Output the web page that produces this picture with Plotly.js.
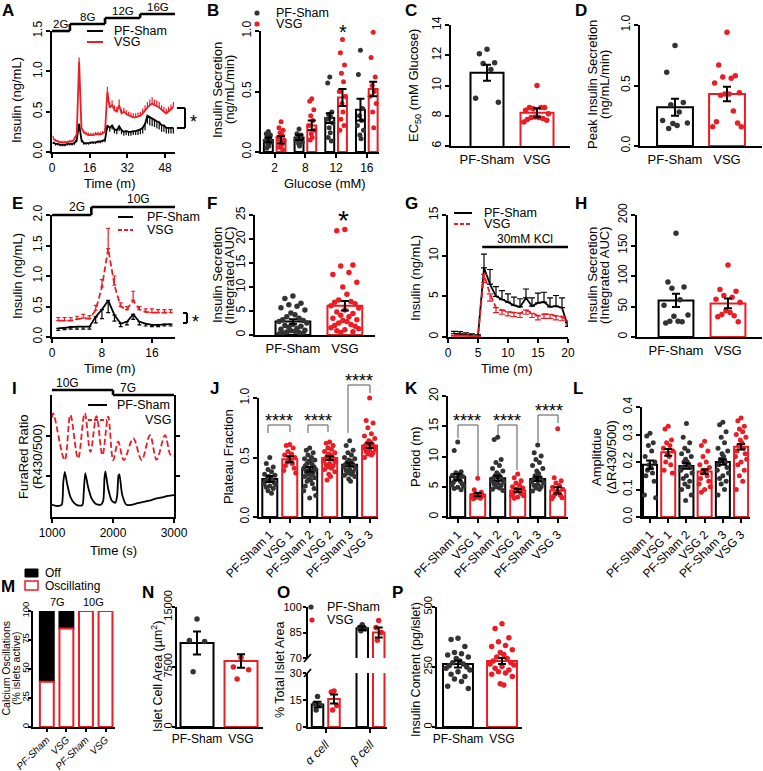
<!DOCTYPE html>
<html><head><meta charset="utf-8">
<script src="https://cdn.plot.ly/plotly-3.0.1.min.js"></script>
<style>html,body{margin:0;padding:0;background:#fff}#plot{width:763px;height:771px}</style>
</head><body><div id="plot"></div>
<script>
// ================= DATA =================
const GROUPS=['PF-Sham','VSG'];
// A: perifusion, stepwise glucose
const A_time=[0.5,1.5,2.5,3.5,4.5,5.5,6.5,7.5,8.5,9.5,10.5,11.5,12.5,13.5,14.5,15.5,16.5,17.5,18.5,19.5,20.5,21.5,22.5,23.5,24.5,25.5,26.5,27.5,28.5,29.5,30.5,31.5,32.5,33.5,34.5,35.5,36.5,37.5,38.5,39.5,40.5,41.5,42.5,43.5,44.5,45.5,46.5,47.5,48.5,49.5,50.5,51.5];
const A_sham=[0.12,0.10,0.10,0.09,0.09,0.09,0.10,0.10,0.10,0.11,0.15,0.35,0.15,0.11,0.11,0.11,0.12,0.12,0.12,0.13,0.13,0.14,0.15,0.33,0.30,0.33,0.28,0.27,0.32,0.27,0.25,0.26,0.25,0.25,0.26,0.26,0.27,0.28,0.30,0.35,0.45,0.43,0.42,0.40,0.38,0.37,0.33,0.33,0.30,0.30,0.30,0.30];
const A_sham_err=[0.02,0.02,0.02,0.02,0.02,0.02,0.02,0.02,0.02,0.02,0.03,0.05,0.03,0.02,0.02,0.02,0.02,0.02,0.02,0.02,0.02,0.02,0.03,0.05,0.05,0.05,0.05,0.05,0.06,0.05,0.05,0.05,0.05,0.05,0.05,0.05,0.06,0.06,0.07,0.08,0.10,0.10,0.10,0.09,0.09,0.09,0.08,0.08,0.07,0.07,0.07,0.07];
const A_vsg=[0.17,0.14,0.13,0.12,0.12,0.12,0.12,0.13,0.13,0.16,0.22,1.12,0.30,0.24,0.22,0.21,0.21,0.21,0.22,0.22,0.22,0.23,0.25,0.75,0.55,0.58,0.52,0.50,0.58,0.48,0.50,0.47,0.45,0.44,0.43,0.43,0.44,0.45,0.48,0.52,0.55,0.58,0.60,0.58,0.57,0.55,0.52,0.50,0.48,0.50,0.53,0.56];
const A_vsg_err=[0.03,0.02,0.02,0.02,0.02,0.02,0.02,0.02,0.02,0.03,0.04,0.05,0.05,0.03,0.03,0.03,0.03,0.03,0.03,0.03,0.03,0.03,0.04,0.06,0.07,0.06,0.06,0.06,0.07,0.05,0.05,0.05,0.05,0.05,0.05,0.05,0.05,0.05,0.06,0.06,0.07,0.07,0.08,0.07,0.07,0.07,0.06,0.06,0.06,0.06,0.06,0.06];
const A_step_t=[0,7.6,22.5,37.4,52.2];
const A_step_lbl=['2G','8G','12G','16G'];
// B: secretion by glucose
const B_glucose=['2','8','12','16'];
const B_sham_mean=[0.10,0.12,0.28,0.35], B_sham_se=[0.02,0.02,0.04,0.09];
const B_vsg_mean=[0.10,0.22,0.45,0.52], B_vsg_se=[0.03,0.04,0.07,0.06];
const B_sham_pts=[[0.17,0.15,0.14,0.12,0.11,0.09,0.08,0.06,0.05,0.03],[0.19,0.15,0.14,0.12,0.11,0.10,0.08,0.07,0.05],[0.62,0.57,0.33,0.31,0.29,0.27,0.24,0.20,0.16,0.12,0.09],[0.84,0.64,0.36,0.30,0.26,0.22,0.18,0.14,0.11]];
const B_vsg_pts=[[0.25,0.20,0.18,0.16,0.14,0.12,0.10,0.08,0.06,0.04,0.02],[0.44,0.42,0.35,0.30,0.26,0.22,0.18,0.15,0.12,0.10],[0.93,0.82,0.72,0.65,0.58,0.50,0.46,0.40,0.33,0.27,0.22,0.18],[0.99,0.78,0.62,0.55,0.50,0.46,0.40,0.33,0.20]];
// C: EC50
const C_mean=[10.85,8.2], C_se=[0.53,0.3];
const C_pts=[[12.4,12.1,11.5,11.45,11.05,9.15,8.9],[10.0,8.54,8.54,8.47,8.54,8.36,8.14,7.92,7.88,7.88,7.81,7.75,7.7,7.59]];
// D: peak secretion
const D_mean=[0.32,0.43], D_se=[0.07,0.06];
const D_pts=[[0.83,0.61,0.36,0.34,0.28,0.21,0.19,0.185,0.17,0.145],[0.94,0.67,0.58,0.57,0.56,0.52,0.44,0.43,0.43,0.42,0.29,0.20,0.19,0.16,0.16]];
// E: 2G -> 10G
const E_time=[1,2,3,4,5,6,7,8,9,10,11,12,13,14,15,16,17,18,19];
const E_sham=[0.14,0.15,0.17,0.17,0.17,0.17,0.33,0.45,0.60,0.36,0.22,0.25,0.37,0.25,0.22,0.20,0.20,0.21,0.21];
const E_sham_err=[0.03,0.03,0.04,0.04,0.04,0.04,0.10,0.15,0.20,0.10,0.05,0.05,0.08,0.05,0.04,0.03,0.03,0.03,0.03];
const E_vsg=[0.27,0.27,0.27,0.29,0.31,0.30,0.44,0.82,1.45,0.85,0.50,0.45,0.60,0.45,0.41,0.40,0.40,0.40,0.40];
const E_vsg_err=[0.05,0.05,0.05,0.05,0.06,0.05,0.08,0.12,0.33,0.15,0.06,0.05,0.15,0.05,0.05,0.06,0.05,0.05,0.05];
const E_step_t=[0,6.3,19.7];
const E_step_lbl=['2G','10G'];
// F: integrated AUC
const F_mean=[2.8,6.1], F_se=[0.5,1.0];
const F_pts=[[8.1,7.6,6.6,6.3,6.0,5.7,5.2,4.6,4.2,3.8,3.5,3.2,3.0,2.8,2.5,2.2,2.0,1.8,1.6,1.4,1.2,1.0,0.9,0.8,0.6,0.5,0.4,0.3,0.2],[22.0,21.7,14.6,14.4,13.0,12.6,11.0,10.0,8.5,7.3,7.0,6.8,6.5,6.1,5.6,5.2,4.8,4.5,4.1,3.8,3.5,3.2,3.0,2.8,2.5,2.2,2.0,1.8,1.5,1.3,1.1,0.9,0.7,0.5]];
// G: KCl
const G_time=[1,2,3,4,5,6,7,8,9,10,11,12,13,14,15,16,17,18,19,20];
const G_sham=[0.4,0.35,0.3,0.2,0.15,8.5,6.5,5.0,4.6,4.3,3.9,3.7,4.8,3.8,4.2,4.3,3.7,3.8,3.6,1.3];
const G_sham_err=[0.3,0.3,0.2,0.2,0.1,1.7,1.8,1.2,1.1,1.0,1.0,1.0,1.1,1.0,1.2,1.2,1.1,1.3,1.2,0.5];
const G_vsg=[0.2,0.2,0.2,0.15,0.1,7.7,5.3,3.6,3.3,3.1,3.0,2.9,3.3,2.9,2.6,2.8,2.8,2.6,2.5,2.0];
const G_vsg_err=[0.1,0.1,0.1,0.1,0.1,1.0,0.9,0.6,0.5,0.5,0.5,0.5,0.5,0.5,0.5,0.5,0.5,0.5,0.5,0.4];
const G_kcl_t=[5.7,20];
// H: KCl AUC
const H_mean=[60,55], H_se=[11,8];
const H_pts=[[170,90,82,80,61,52,36,34,26,26,25,23],[118,78,75,68,65,62,57,43,40,37,35,33,25]];
// I: FuraRed traces
const I_sham_t=[1000,1100,1160,1185,1210,1250,1300,1360,1440,1500,1520,1545,1590,1650,1720,1800,1840,1860,1875,1920,1980,2040,2070,2090,2105,2150,2220,2300,2400,2500,2600,2700,2800,2900,3000];
const I_sham=[0.30,0.27,0.30,0.85,1.11,0.80,0.50,0.35,0.28,0.30,0.60,1.08,0.75,0.45,0.32,0.30,0.40,0.95,1.12,0.70,0.40,0.35,0.55,1.02,1.05,0.55,0.30,0.30,0.34,0.37,0.40,0.45,0.48,0.52,0.54];
const I_vsg_t=[1000,1020,1208,1301,1427,1537,1630,1729,1827,1921,2003,2085,2178,2332,2469,2606,2715,2852,2945,3000];
const I_vsg=[2.45,2.55,1.40,2.51,1.44,2.55,1.60,2.48,1.52,2.47,1.40,1.85,1.40,1.93,1.40,2.01,1.41,2.01,1.52,1.50];
const I_step_t=[1000,2000,3000];
const I_step_lbl=['10G','7G'];
// J, K, L: oscillation metrics
const JKL_labels=['PF-Sham 1','VSG 1','PF-Sham 2','VSG 2','PF-Sham 3','VSG 3'];
const J_mean=[0.32,0.485,0.40,0.495,0.44,0.60], J_se=[0.025,0.025,0.02,0.015,0.015,0.02];
const J_pts=[[0.50,0.45,0.42,0.40,0.38,0.36,0.35,0.34,0.33,0.32,0.31,0.30,0.29,0.28,0.27,0.26,0.25,0.24,0.22,0.20],
[0.61,0.60,0.58,0.55,0.53,0.52,0.50,0.49,0.48,0.46,0.45,0.43,0.41,0.39,0.37],
[0.58,0.56,0.54,0.52,0.50,0.49,0.48,0.47,0.46,0.45,0.44,0.43,0.42,0.41,0.40,0.39,0.38,0.37,0.36,0.35,0.34,0.33,0.32,0.31,0.30,0.28,0.26,0.24,0.22,0.18,0.16],
[0.63,0.62,0.60,0.58,0.57,0.55,0.54,0.53,0.52,0.51,0.50,0.49,0.48,0.47,0.46,0.45,0.44,0.43,0.42,0.41,0.40,0.38,0.36,0.34,0.31],
[0.64,0.60,0.56,0.54,0.52,0.50,0.49,0.48,0.47,0.46,0.45,0.44,0.43,0.42,0.41,0.40,0.39,0.38,0.37,0.36,0.35,0.34,0.32,0.30],
[1.00,0.81,0.79,0.75,0.70,0.68,0.66,0.64,0.63,0.62,0.61,0.60,0.59,0.58,0.57,0.56,0.55,0.54,0.53,0.52,0.50]];
const K_mean=[6.6,3.7,6.4,4.4,6.3,4.4], K_se=[0.5,0.25,0.4,0.25,0.35,0.5];
const K_pts=[[12.4,11.0,7.5,7.3,7.1,6.9,6.7,6.5,6.3,6.1,5.9,5.7,5.5,5.3,5.1,4.9,4.7,4.5],
[6.4,4.5,4.1,3.9,3.7,3.6,3.5,3.4,3.3,3.2,3.1,3.0],
[13.2,12.8,9.5,9.0,8.5,8.0,7.6,7.3,7.0,6.8,6.6,6.4,6.2,6.0,5.8,5.6,5.4,5.2,5.0,4.8,4.6,4.4],
[7.1,6.5,6.0,5.6,5.3,5.0,4.8,4.6,4.4,4.2,4.0,3.9,3.8,3.6,3.5,3.3,3.1],
[11.9,10.6,10.1,9.5,9.0,8.5,8.0,7.6,7.2,6.8,6.5,6.2,6.0,5.8,5.6,5.4,5.2,5.0,4.8,4.6,4.3],
[14.6,6.5,6.0,5.6,5.2,4.9,4.6,4.3,4.0,3.8,3.6,3.4,3.2,3.0]];
const L_mean=[0.19,0.235,0.185,0.165,0.20,0.255], L_se=[0.015,0.012,0.01,0.008,0.01,0.01];
const L_pts=[[0.305,0.295,0.27,0.26,0.24,0.22,0.20,0.19,0.18,0.17,0.16,0.15,0.13,0.08,0.07],
[0.33,0.32,0.28,0.27,0.26,0.25,0.24,0.23,0.22,0.20,0.19,0.17,0.16],
[0.34,0.29,0.27,0.25,0.24,0.23,0.22,0.21,0.20,0.20,0.19,0.18,0.18,0.17,0.16,0.15,0.14,0.13,0.12,0.11,0.10,0.08,0.06],
[0.275,0.26,0.24,0.22,0.20,0.19,0.18,0.17,0.17,0.16,0.15,0.14,0.13,0.12,0.11,0.10,0.09],
[0.345,0.335,0.31,0.29,0.27,0.25,0.24,0.23,0.22,0.21,0.20,0.19,0.18,0.17,0.16,0.15,0.14,0.13,0.12,0.10,0.08],
[0.36,0.35,0.33,0.32,0.31,0.30,0.29,0.28,0.27,0.26,0.25,0.24,0.23,0.22,0.21,0.20,0.19,0.17,0.15,0.13,0.10]];
// M: % islets oscillating
const M_labels=['PF-Sham','VSG','PF-Sham','VSG'];
const M_osc=[39,85,100,100], M_off=[61,15,0,0];
const M_glc=['7G','10G'];
// N: islet cell area
const N_mean=[10500,8250], N_se=[1450,850];
const N_pts=[[13500,10800,10700,6900],[8700,7500,7150,6000]];
// O: % total islet area
const O_cells=['α cell','β cell'];
const O_mean=[12.5,15.5,87.5,85.0], O_se=[1.5,2.5,1.0,3.0];
const O_pts=[[16.9,13.1,12.0,9.4],[20.0,19.5,12.0,9.5],[89.5,88.0,87.0,86.0],[92.0,88.0,85.0,80.5]];
// P: insulin content
const P_mean=[262,275], P_se=[14,13];
const P_pts=[[370,365,335,310,305,300,292,285,275,268,262,255,250,245,238,230,220,210,200,190,170,160],
[430,410,372,355,340,335,322,310,302,292,285,275,268,262,258,252,245,238,230,225,220,210,180,175]];

// ================= LAYOUT HELPERS =================
const W=763,H=771;
const X=p=>p/W, Y=p=>1-p/H;
const FONT='Liberation Sans, Arial, Helvetica, sans-serif';
const RED='#ec1c24', DOT='#333333', BLK='#000000';
const traces=[], shapes=[], ann=[];
const layout={width:W,height:H,margin:{l:0,r:0,t:0,b:0,pad:0},showlegend:false,barmode:'overlay',
  paper_bgcolor:'#ffffff',plot_bgcolor:'rgba(0,0,0,0)',font:{family:FONT,size:12,color:'#000'},shapes:shapes,annotations:ann};
const AX={showline:true,linewidth:2,linecolor:'#000',ticks:'outside',ticklen:4,tickwidth:2,tickcolor:'#000',
  showgrid:false,zeroline:false,fixedrange:true,tickfont:{family:FONT,size:12,color:'#000'}};
function mkAxes(n,box,xr,yr,xo,yo){
  const s=n===1?'':String(n);
  layout['xaxis'+s]=Object.assign({},AX,{domain:[X(box[0]),X(box[1])],range:xr,anchor:'y'+s},xo||{});
  layout['yaxis'+s]=Object.assign({},AX,{domain:[Y(box[3]),Y(box[2])],range:yr,anchor:'x'+s,tickangle:-90,ticklabelstandoff:-1},yo||{});
  return {x:'x'+s,y:'y'+s};
}
function T(x,y,text,o){ann.push(Object.assign({xref:'paper',yref:'paper',x:X(x),y:Y(y),text:text,showarrow:false,
  xanchor:'center',yanchor:'middle',font:{family:FONT,size:13,color:'#000'}},o||{}));}
function Ln(x0,y0,x1,y1,color,width,dash){shapes.push({type:'line',xref:'paper',yref:'paper',x0:X(x0),y0:Y(y0),x1:X(x1),y1:Y(y1),
  line:{color:color||'#000',width:width||2,dash:dash||'solid'}});}
// y-axis titles: one annotation per line so the line spacing stays tight
function yTitle(xs,y,lines,size){[].concat(lines).forEach((t,i)=>T([].concat(xs)[i],y,t,{textangle:-90,font:{family:FONT,size:size||13,color:'#000'}}));}
function letter(x,y,t){T(x,y,'<b>'+t+'</b>',{font:{family:FONT,size:17,color:'#000'}});}
const PAT=[0,-0.55,0.55,-0.28,0.28,-0.82,0.82,-0.14,0.14,-0.42,0.42,-0.7,0.7,-0.95,0.95];
function swarm(c,vals,half){return vals.map((v,j)=>c+PAT[j%PAT.length]*half);}
function barSet(ax,pos,means,ses,cols,groups,w,dot){
  traces.push({type:'bar',xaxis:ax.x,yaxis:ax.y,x:pos,y:means,width:w,
    marker:{color:'rgba(255,255,255,0)',line:{color:cols,width:2}},hoverinfo:'skip'});
  groups.forEach((g,i)=>{
    traces.push({type:'scatter',mode:'markers',xaxis:ax.x,yaxis:ax.y,x:swarm(pos[i],g,w*0.42),y:g,
      marker:{size:dot||5.5,color:cols[i]===RED?RED:DOT},cliponaxis:false,hoverinfo:'skip'});
  });
  if(ses) traces.push({type:'scatter',mode:'markers',xaxis:ax.x,yaxis:ax.y,x:pos,y:means,
    marker:{size:1,color:'rgba(0,0,0,0)'},error_y:{type:'data',array:ses,color:'#000',thickness:2,width:4},hoverinfo:'skip'});
}
function tsLine(ax,t,v,err,up,color,dash,capw){
  const z=err.map(()=>0);
  traces.push({type:'scatter',mode:'lines',xaxis:ax.x,yaxis:ax.y,x:t,y:v,line:{color:color,width:1.8,dash:dash||'solid'},
    error_y:{type:'data',symmetric:false,array:up?err:z,arrayminus:up?z:err,color:color,thickness:1.2,width:capw||0},hoverinfo:'skip'});
}
function steps(xref,ts,ysPx,lbls,lblX,lblDy,fs){
  for(let k=0;k<ysPx.length;k++){
    shapes.push({type:'line',xref:xref,yref:'paper',x0:ts[k],x1:ts[k+1],y0:Y(ysPx[k]),y1:Y(ysPx[k]),line:{color:'#000',width:2.6}});
    if(k<ysPx.length-1) shapes.push({type:'line',xref:xref,yref:'paper',x0:ts[k+1],x1:ts[k+1],y0:Y(ysPx[k]),y1:Y(ysPx[k+1]),line:{color:'#000',width:2.6}});
    ann.push({xref:xref,yref:'paper',x:lblX?lblX[k]:(ts[k]+ts[k+1])/2,y:Y(ysPx[k]-(lblDy||8)),text:lbls[k],showarrow:false,
      xanchor:'center',yanchor:'middle',font:{family:FONT,size:fs||12,color:'#000'}});
  }
}
function legLine(x0,x1,y,color,dash,label,tx){Ln(x0,y,x1,y,color,2,dash);T(tx,y,label,{xanchor:'left',font:{family:FONT,size:12.5,color:'#000'}});}
function legDot(x,y,color,label,tx){shapes.push({type:'circle',xref:'paper',yref:'paper',x0:X(x-2.6),x1:X(x+2.6),y0:Y(y+2.6),y1:Y(y-2.6),fillcolor:color,line:{width:0}});T(tx,y,label,{xanchor:'left',font:{family:FONT,size:12.5,color:'#000'}});}
function bracket(xl,xr,top,lb,rb){const c='#707070';Ln(xl,lb,xl,top,c,1.2);Ln(xl,top,xr,top,c,1.2);Ln(xr,top,xr,rb,c,1.2);}
function pairPos(n,off){const p=[];for(let k=0;k<n;k++){p.push(k-off);p.push(k+off);}return p;}
function inter(a,b){const r=[];a.forEach((v,i)=>{r.push(v);r.push(b[i]);});return r;}
const CAT_X={tickfont:{family:FONT,size:13,color:'#000'}};
const CAT_X4={tickfont:{family:FONT,size:12,color:'#000'}};
const SM={family:FONT,size:11,color:'#000'};
const ROW4Y={ticklen:3,ticklabelstandoff:-4,tickfont:SM};

// ---------- A ----------
const a=mkAxes(1,[52,175,31,152],[0,52.2],[0,1.5],{tickvals:[0,16,32,48]},{tickvals:[0,0.5,1,1.5],ticktext:['0.0','0.5','1.0','1.5']});
tsLine(a,A_time,A_sham,A_sham_err,false,BLK);
tsLine(a,A_time,A_vsg,A_vsg_err,true,RED);
steps('x',A_step_t,[31,24,18,14],A_step_lbl,null,7,11.5);
legLine(87,103,31,BLK,'solid','PF-Sham',112);
legLine(87,103,42,RED,'solid','VSG',112);
Ln(177,108,185,108);Ln(185,108,185,128);Ln(177,128,185,128);
T(193,122,'*',{font:{family:FONT,size:18,color:'#000'}});
yTitle(17,100,'Insulin (ng/mL)');
T(110,183,'Time (m)');
letter(8,11,'A');

// ---------- B ----------
const b=mkAxes(2,[261,379,31,152],[-0.446,3.397],[0,1],{tickvals:[0,1,2,3],ticktext:B_glucose},{tickvals:[0,0.5,1],ticktext:['0.0','0.5','1.0']});
barSet(b,pairPos(4,0.207),inter(B_sham_mean,B_vsg_mean),inter(B_sham_se,B_vsg_se),inter([BLK,BLK,BLK,BLK],[RED,RED,RED,RED]),inter(B_sham_pts,B_vsg_pts),0.29,5);
legDot(257,13,DOT,'PF-Sham',274);
legDot(257,24,RED,'VSG',274);
T(343,32,'*',{font:{family:FONT,size:20,color:'#000'}});
yTitle([217,229],90,['Insulin Secretion','(ng/mL/min)']);
T(325,183,'Glucose (mM)');
letter(213,11,'B');

// ---------- C ----------
const c=mkAxes(3,[451,570,25,146],[-0.72,1.66],[6,14],Object.assign({tickvals:[0,1],ticktext:GROUPS,ticks:''},CAT_X),{dtick:2});
barSet(c,[0,1],C_mean,C_se,[BLK,RED],C_pts,0.66);
yTitle(414,86,'EC<sub>50</sub> (mM Glucose)');
letter(411,11,'C');

// ---------- D ----------
const d=mkAxes(4,[640,762,25,146],[-0.673,1.673],[0,1],Object.assign({tickvals:[0,1],ticktext:GROUPS,ticks:''},CAT_X),{tickvals:[0,0.5,1],ticktext:['0.0','0.5','1.0']});
barSet(d,[0,1],D_mean,D_se,[BLK,RED],D_pts,0.69);
yTitle([592,604],85,['Peak Insulin Secretion','(ng/mL/min)']);
letter(581,11,'D');

// ---------- E ----------
const e=mkAxes(5,[52,175,215,337],[0,19.7],[0,2],{tickvals:[0,8,16]},{tickvals:[0,0.5,1,1.5,2],ticktext:['0.0','0.5','1.0','1.5','2.0']});
tsLine(e,E_time,E_sham,E_sham_err,false,BLK,'solid',2);
tsLine(e,E_time,E_vsg,E_vsg_err,true,RED,'6px,3px',2);
steps('x5',E_step_t,[215,207],E_step_lbl,[4,13.8],8);
legLine(118,133,217,BLK,'solid','PF-Sham',145);
legLine(118,133,230,RED,'4px,2px','VSG',145);
Ln(183,313,187,313);Ln(187,313,187,323);Ln(183,323,187,323);
T(195,322,'*',{font:{family:FONT,size:18,color:'#000'}});
yTitle(17,276,'Insulin (ng/mL)');
T(110,368,'Time (m)');
letter(17,204,'E');

// ---------- F ----------
const f=mkAxes(6,[255,375,215,335],[-0.73,1.58],[0,25],Object.assign({tickvals:[0,1],ticktext:GROUPS,ticks:''},CAT_X),{dtick:5});
barSet(f,[0,1],F_mean,F_se,[BLK,RED],F_pts,0.67);
T(343,220,'*',{font:{family:FONT,size:28,color:'#000'}});
yTitle([217,229],275,['Insulin Secretion','(Integrated AUC)']);
letter(212,204,'F');

// ---------- G ----------
const g=mkAxes(7,[448,568,215,337],[0,20],[0,15],{dtick:5},{dtick:5});
tsLine(g,G_time,G_sham,G_sham_err,true,BLK,'solid',3);
tsLine(g,G_time,G_vsg,G_vsg_err,false,RED,'6px,3px',3);
shapes.push({type:'line',xref:'x7',yref:'paper',x0:G_kcl_t[0],x1:G_kcl_t[1],y0:Y(247),y1:Y(247),line:{color:'#000',width:2.6}});
T(525,239,'30mM KCl',{font:{family:FONT,size:12,color:'#000'}});
legLine(454,472,213,BLK,'solid','PF-Sham',482);
legLine(454,472,224,RED,'4px,2px','VSG',482);
yTitle(415,278,'Insulin (ng/mL)');
T(507,368,'Time (m)');
letter(411,204,'G');

// ---------- H ----------
const h=mkAxes(8,[637,762,215,337],[-0.75,1.654],[0,200],Object.assign({tickvals:[0,1],ticktext:GROUPS,ticks:''},CAT_X),{dtick:50});
barSet(h,[0,1],H_mean,H_se,[BLK,RED],H_pts,0.67);
yTitle([592,604],275,['Insulin Secretion','(Integrated AUC)']);
letter(581,204,'H');

// ---------- I ----------
const iax=mkAxes(9,[52,174,395,517],[1000,3000],[0,3],{tickvals:[1000,2000,3000]},{tickvals:[1,2],showticklabels:false,mirror:'ticks'});
traces.push({type:'scatter',mode:'lines',xaxis:iax.x,yaxis:iax.y,x:I_vsg_t,y:I_vsg,line:{color:RED,width:1.8,dash:'6px,3px',shape:'spline',smoothing:1},hoverinfo:'skip'});
traces.push({type:'scatter',mode:'lines',xaxis:iax.x,yaxis:iax.y,x:I_sham_t,y:I_sham,line:{color:BLK,width:1.8,shape:'spline',smoothing:0.6},hoverinfo:'skip'});
steps('x9',I_step_t,[390,395],I_step_lbl,[1250,2250],7);
legLine(88,107,405,BLK,'solid','PF-Sham',115);
legLine(88,107,420,RED,'4px,2px','VSG',143);
yTitle([23,37],457,['FuraRed Ratio','(R430/500)']);
T(113,550,'Time (s)');
letter(14,388,'I');

// ---------- J ----------
const ROT={tickangle:-45,tickfont:{family:FONT,size:12,color:'#000'}};
const J6=[BLK,RED,BLK,RED,BLK,RED];
const j=mkAxes(10,[259,378,398,517],[-0.54,5.42],[0,1],Object.assign({tickvals:[0,1,2,3,4,5],ticktext:JKL_labels},ROT),{tickvals:[0,0.5,1],ticktext:['0.0','0.5','1.0']});
barSet(j,[0,1,2,3,4,5],J_mean,J_se,J6,J_pts,0.75,5);
bracket(268,290,425,433,432);bracket(308,328,425,433,432);bracket(348,370,385,433,393);
T(279,421,'****',{font:{family:FONT,size:18,color:'#000'}});
T(318,421,'****',{font:{family:FONT,size:18,color:'#000'}});
T(359,381,'****',{font:{family:FONT,size:18,color:'#000'}});
yTitle(228,457,'Plateau Fraction');
letter(214,388,'J');

// ---------- K ----------
const k=mkAxes(11,[448,568,396,517],[-0.485,5.515],[0,20],Object.assign({tickvals:[0,1,2,3,4,5],ticktext:JKL_labels},ROT),{dtick:5});
barSet(k,[0,1,2,3,4,5],K_mean,K_se,J6,K_pts,0.75,5);
bracket(458,478,425,438,477);bracket(498,517,425,435,470);bracket(538,558,415,442,423);
T(467,421,'****',{font:{family:FONT,size:18,color:'#000'}});
T(507,421,'****',{font:{family:FONT,size:18,color:'#000'}});
T(549,411,'****',{font:{family:FONT,size:18,color:'#000'}});
yTitle(415,457,'Period (m)');
letter(412,388,'K');

// ---------- L ----------
const l=mkAxes(12,[642,750,407,517],[-0.44,5.49],[0,0.4],Object.assign({tickvals:[0,1,2,3,4,5],ticktext:JKL_labels},ROT),{tickvals:[0,0.1,0.2,0.3,0.4],ticktext:['0.0','0.1','0.2','0.3','0.4']});
barSet(l,[0,1,2,3,4,5],L_mean,L_se,J6,L_pts,0.77,5);
yTitle([596,611],457,['Amplitdue','(ΔR430/500)']);
letter(578,388,'L');

// ---------- M ----------
const m=mkAxes(13,[33,115,611,727],[-0.707,3.485],[0,100],
  {tickvals:[0,1,2,3],ticktext:M_labels.map(s=>'<i>'+s+'</i>'),tickangle:-45,ticklen:3,ticklabelstandoff:-2,tickfont:{family:FONT,size:10,color:'#000'}},
  Object.assign({dtick:25},ROW4Y,{ticklabelstandoff:-5,tickfont:{family:FONT,size:9.5,color:'#000'}}));
traces.push({type:'bar',xaxis:m.x,yaxis:m.y,x:[0,1,2,3],y:M_off,base:M_osc,width:0.71,marker:{color:'#000',line:{color:'#000',width:2}},hoverinfo:'skip'});
traces.push({type:'bar',xaxis:m.x,yaxis:m.y,x:[0,1,2,3],y:M_osc,width:0.71,marker:{color:'#ffffff',line:{color:RED,width:2}},hoverinfo:'skip'});
T(57,602,M_glc[0],{font:SM});
T(93,602,M_glc[1],{font:SM});
shapes.push({type:'rect',xref:'paper',yref:'paper',x0:X(25),x1:X(38),y0:Y(577),y1:Y(569),fillcolor:'#000',line:{color:'#000',width:1}});
T(43,573,'Off',{xanchor:'left',font:{family:FONT,size:12,color:'#000'}});
shapes.push({type:'rect',xref:'paper',yref:'paper',x0:X(25),x1:X(38),y0:Y(590),y1:Y(581),fillcolor:'#fff',line:{color:RED,width:1.5}});
T(43,586,'Oscillating',{xanchor:'left',font:{family:FONT,size:12,color:'#000'}});
yTitle([5.5,16],668,['Calcium Oscillations','(% islets active)'],10.5);
letter(8,586,'M');

// ---------- N ----------
const n=mkAxes(14,[177,263,607,727],[-0.4545,1.5],[0,15000],Object.assign({tickvals:[0,1],ticktext:GROUPS,ticks:''},CAT_X4),
  Object.assign({tickvals:[0,7500,15000],ticktext:['0','7500','15000']},ROW4Y));
barSet(n,[0,1],N_mean,N_se,[BLK,RED],N_pts,0.75);
yTitle(157,677,'Islet Cell Area (µm<sup>2</sup>)',12.5);
letter(148,592,'N');

// ---------- O ----------
const o=mkAxes(15,[308,387,673,727],[-0.397,1.369],[0,30],
  {tickvals:[0,1],ticktext:O_cells.map(s=>'<i>'+s+'</i>'),tickangle:-45,tickfont:{family:FONT,size:12,color:'#000'}},
  Object.assign({tickvals:[0,15,30],tickangle:0},ROW4Y,{ticklabelstandoff:-1}));
layout.yaxis17=Object.assign({},AX,{domain:[Y(658),Y(607)],range:[70,100],anchor:'x15',tickvals:[70,85,100],tickangle:0},ROW4Y,{ticklabelstandoff:-1});
const oPos=[-0.184,0.184,0.816,1.184], oCol=[BLK,RED,BLK,RED];
traces.push({type:'bar',xaxis:'x15',yaxis:'y15',x:oPos,y:O_mean,width:0.257,marker:{color:'rgba(255,255,255,0)',line:{color:oCol,width:2}},hoverinfo:'skip'});
traces.push({type:'bar',xaxis:'x15',yaxis:'y17',x:oPos.slice(2),y:O_mean.slice(2),width:0.257,marker:{color:'rgba(255,255,255,0)',line:{color:oCol.slice(2),width:2}},hoverinfo:'skip'});
O_pts.forEach((g,i)=>{traces.push({type:'scatter',mode:'markers',xaxis:'x15',yaxis:i<2?'y15':'y17',x:swarm(oPos[i],g,0.11),y:g,marker:{size:5.5,color:oCol[i]===RED?RED:DOT},cliponaxis:false,hoverinfo:'skip'});});
traces.push({type:'scatter',mode:'markers',xaxis:'x15',yaxis:'y15',x:oPos.slice(0,2),y:O_mean.slice(0,2),marker:{size:1,color:'rgba(0,0,0,0)'},error_y:{type:'data',array:O_se.slice(0,2),color:'#000',thickness:2,width:4},hoverinfo:'skip'});
traces.push({type:'scatter',mode:'markers',xaxis:'x15',yaxis:'y17',x:oPos.slice(2),y:O_mean.slice(2),marker:{size:1,color:'rgba(0,0,0,0)'},error_y:{type:'data',array:O_se.slice(2),color:'#000',thickness:2,width:4},hoverinfo:'skip'});
Ln(304,662,311,654,'#000',1.6);Ln(304,677,311,669,'#000',1.6);
legDot(311,607,DOT,'PF-Sham',325);
legDot(312,620,RED,'VSG',325);
yTitle(280,670,'% Total Islet Area',12.5);
letter(283,592,'O');

// ---------- P ----------
const p=mkAxes(16,[437,522,607,727],[-0.477,1.4545],[0,500],Object.assign({tickvals:[0,1],ticktext:GROUPS,ticks:''},CAT_X4),
  Object.assign({tickvals:[0,250,500]},ROW4Y));
barSet(p,[0,1],P_mean,P_se,[BLK,RED],P_pts,0.68);
yTitle(416,670,'Insulin Content (pg/islet)',12.5);
letter(397,592,'P');

Plotly.newPlot('plot',traces,layout,{staticPlot:true,displayModeBar:false});
</script>
</body></html>
